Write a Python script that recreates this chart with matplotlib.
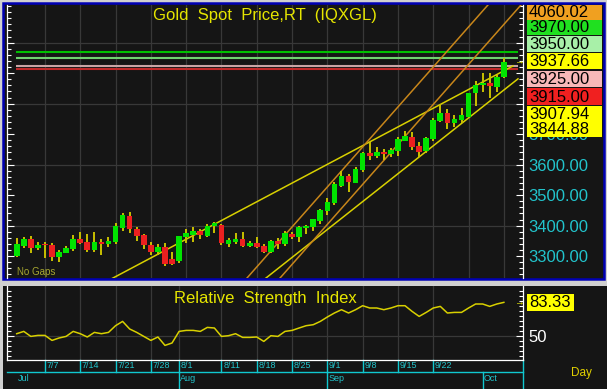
import matplotlib
matplotlib.use('Agg')
import matplotlib.pyplot as plt
import numpy as np
from matplotlib.patches import Rectangle
from matplotlib.ticker import MultipleLocator, FixedLocator
from matplotlib.transforms import blended_transform_factory

plt.rcParams['font.family'] = ['Liberation Sans', 'DejaVu Sans']

# ---------------- data ----------------
dates = ['7/1','7/2','7/3','7/4','7/7','7/8','7/9','7/10','7/11','7/14','7/15','7/16','7/17','7/18',
         '7/21','7/22','7/23','7/24','7/25','7/28','7/29','7/30','7/31','8/1','8/4','8/5','8/6','8/7',
         '8/8','8/11','8/12','8/13','8/14','8/15','8/18','8/19','8/20','8/21','8/22','8/25','8/26',
         '8/27','8/28','8/29','9/1','9/2','9/3','9/4','9/5','9/8','9/9','9/10','9/11','9/12','9/15',
         '9/16','9/17','9/18','9/19','9/22','9/23','9/24','9/25','9/26','9/29','9/30','10/1','10/2',
         '10/3','10/6']
opens = [3302,3335,3357,3326,3339,3337,3298,3311,3322,3358,3345,3320,3348,3339,
         3346,3394,3433,3389,3369,3337,3315,3331,3291,3285,3364,3370,3382,3367,
         3399,3402,3339,3345,3358,3335,3342,3335,3315,3351,3340,3373,3362,
         3391,3395,3415,3448,3476,3531,3563,3541,3583,3637,3628,3643,3634,3645,
         3679,3690,3662,3645,3683,3743,3768,3736,3747,3757,3834,3861,3867,
         3855,3886]
highs = [3359,3363,3366,3346,3346,3344,3320,3334,3369,3379,3372,3378,3355,3362,
         3408,3443,3444,3395,3373,3346,3339,3342,3315,3366,3389,3395,3388,3404,
         3411,3405,3361,3375,3378,3351,3362,3340,3353,3359,3383,3380,3399,
         3402,3423,3455,3490,3542,3579,3569,3594,3641,3673,3659,3651,3654,3690,
         3710,3707,3674,3692,3752,3798,3781,3763,3787,3836,3876,3900,3900,
         3894,3949]
lows = [3298,3328,3309,3320,3293,3285,3282,3309,3318,3340,3315,3315,3304,3331,
        3340,3384,3377,3351,3322,3304,3304,3268,3271,3279,3344,3348,3358,3363,
        3377,3337,3331,3340,3329,3329,3326,3312,3312,3323,3333,3358,3348,
        3372,3383,3404,3435,3468,3528,3512,3539,3577,3615,3621,3615,3626,3628,
        3677,3648,3626,3637,3677,3739,3716,3725,3736,3757,3793,3839,3818,
        3839,3884]
closes = [3339,3357,3328,3338,3336,3298,3315,3326,3358,3342,3320,3346,3340,3351,
          3399,3435,3389,3366,3337,3315,3331,3274,3274,3366,3375,3382,3368,3400,
          3408,3342,3352,3358,3334,3342,3331,3315,3351,3340,3377,3362,3395,
          3399,3421,3451,3479,3536,3563,3544,3585,3637,3628,3643,3634,3648,3683,
          3694,3659,3643,3686,3747,3768,3736,3750,3763,3834,3861,3867,3858,
          3886,3937.66]
rsi = [52.0,54.3,49.3,50.3,50.3,45.3,47.7,49.3,54.3,52.0,48.7,53.3,52.0,53.3,
       60.0,64.3,56.7,53.3,49.3,45.3,48.7,40.3,42.7,54.3,55.3,55.3,54.3,58.3,
       57.7,49.3,50.0,52.0,48.3,48.3,48.7,44.3,50.0,49.3,54.3,55.3,57.7,
       60.0,61.0,64.3,68.7,72.7,76.0,72.7,76.0,80.0,77.7,77.7,76.0,77.7,80.0,
       80.0,74.3,69.3,73.3,77.7,79.3,72.7,73.3,73.3,77.7,81.7,81.7,79.3,
       81.7,83.33]

# trend lines: start (bar index, price) and value at last bar (index 69)
trend_start_x = [13.64, 35.31, 32.62, 37.30]
trend_start_y = [3228.5, 3228.5, 3228.5, 3228.5]
trend_last_y = [3907.94, 3844.88, 4182.8, 4060.02]
trend_end_x = [70.3, 71.0, 71.5, 71.5]
trend_colors = ['#d8d000', '#d8d000', '#c8861a', '#c8861a']

level_values = [3970.00, 3950.00, 3925.00, 3915.00]
level_colors = ['#00c000', '#70d070', '#c8a4a4', '#c02828']

box_labels = ['4060.02', '3970.00', '3950.00', '3937.66', '3925.00', '3915.00', '3907.94', '3844.88']
box_colors = ['#f0a020', '#20e020', '#a8f0a8', '#ffff00', '#f8b8b8', '#f02020', '#ffff00', '#ffff00']

price_ticks = [3300, 3400, 3500, 3600, 3700, 3800, 3900, 4000]
price_tick_labels = ['3300.00', '3400.00', '3500.00', '3600.00', '3700.00', '', '', '']
grid_prices = [3400, 3600, 3800, 4000]
date_tick_labels = ['7/7', '7/14', '7/21', '7/28', '8/1', '8/11', '8/18', '8/25', '9/1', '9/8', '9/15', '9/22']
month_labels = ['Jul', 'Aug', 'Sep', 'Oct']
month_first = ['7/1', '8/1', '9/1', '10/1']
grid_dates = ['7/7','7/14','7/21','7/28','8/4','8/11','8/18','8/25','9/1','9/8','9/15','9/22','9/29','10/6']

# ---------------- layout ----------------
W, H = 607, 389
DARK = '#151515'
GRID = '#383838'
YEL = '#e6e600'
CYAN_T = '#22c4cc'
CYAN_L = '#10c8d0'

fig = plt.figure(figsize=(W / 100, H / 100), dpi=100, facecolor='#d0d0d0')

def frac(x0, y0, x1, y1):
    return [x0 / W, 1 - y1 / H, (x1 - x0) / W, (y1 - y0) / H]

bg = fig.add_axes([0, 0, 1, 1], zorder=0)
bg.set_xlim(0, W); bg.set_ylim(H, 0); bg.axis('off')
bg.add_patch(Rectangle((3, 3), 601, 276, facecolor=DARK, edgecolor='#0000b4', lw=1.8))
bg.add_patch(Rectangle((3, 286), 604, 103, facecolor=DARK, edgecolor='none'))

idx = np.arange(len(closes))
pos = {d: i for i, d in enumerate(dates)}

# ---------------- main panel ----------------
ax = fig.add_axes(frac(7, 5, 523, 278), zorder=2)
ax.set_facecolor(DARK)
ax.set_xlim(-1.374, 71.71)
ax.set_ylim(3228.5, 4123.6)
for s in ['top', 'bottom']:
    ax.spines[s].set_visible(False)
for s in ['left', 'right']:
    ax.spines[s].set_color('white')
    ax.spines[s].set_linewidth(0.9)
ax.set_xticks([])
ax.yaxis.set_major_locator(FixedLocator(price_ticks))
ax.yaxis.set_minor_locator(MultipleLocator(20))
ax.set_yticklabels(price_tick_labels)
ax.tick_params(axis='y', which='both', direction='in', left=True, right=True,
               labelleft=False, labelright=True, colors='white', width=0.8)
ax.tick_params(axis='y', which='major', length=5, labelsize=12, labelcolor=CYAN_T, pad=4)
ax.tick_params(axis='y', which='minor', length=3)

for g in grid_prices:
    ax.axhline(g, color=GRID, lw=0.9, zorder=0)
for d in grid_dates:
    ax.axvline(pos[d], color=GRID, lw=0.9, zorder=0)

for v, c in zip(level_values, level_colors):
    ax.hlines(v, -0.15, 71.0, color=c, lw=1.5, zorder=1)

for x0, y0, y69, x1, c in zip(trend_start_x, trend_start_y, trend_last_y, trend_end_x, trend_colors):
    slope = (y69 - y0) / (69 - x0)
    xs = np.array([x0 - 3, x1])
    ax.plot(xs, y0 + slope * (xs - x0), color=c, lw=1.1, zorder=2)

o = np.array(opens); c_ = np.array(closes); hi = np.array(highs); lo = np.array(lows)
up = c_ >= o
ax.vlines(idx, lo, hi, color='#c8c000', lw=1.4, zorder=3)
body_h = np.maximum(np.abs(c_ - o), 3.0)
ax.bar(idx, body_h, bottom=np.minimum(o, c_), width=0.8,
       color=np.where(up, '#00e400', '#ec2020'), zorder=4)

ax.text(idx[-1] + 1.4, closes[-1], '\u2192', color=YEL, fontsize=7, va='center', ha='left', zorder=6)
ax.text(0.5, 0.963, 'Gold  Spot  Price,RT  (IQXGL)', transform=ax.transAxes, ha='center', va='center',
        color=YEL, fontsize=12)
ax.text(0.02, 0.005, 'No Gaps', transform=ax.transAxes, ha='left', va='bottom', color='#a8a830', fontsize=7)

# ---------------- RSI panel ----------------
ax2 = fig.add_axes(frac(7, 286, 523, 359.5), zorder=2)
ax2.set_facecolor(DARK)
ax2.set_xlim(-1.374, 71.71)
ax2.set_ylim(26.2, 99.7)
ax2.spines['top'].set_visible(False)
for s in ['left', 'right', 'bottom']:
    ax2.spines[s].set_color('white')
    ax2.spines[s].set_linewidth(0.9)
ax2.set_xticks([])
ax2.yaxis.set_major_locator(FixedLocator([50]))
ax2.yaxis.set_minor_locator(MultipleLocator(5))
ax2.set_yticklabels(['50'])
ax2.tick_params(axis='y', which='both', direction='in', left=True, right=True,
                labelleft=False, labelright=True, colors='white', width=0.8)
ax2.tick_params(axis='y', which='major', length=5, labelsize=12, labelcolor='white', pad=4)
ax2.tick_params(axis='y', which='minor', length=3)
ax2.axhline(50, color=GRID, lw=0.9, zorder=0)
for d in date_tick_labels:
    ax2.axvline(pos[d], color=GRID, lw=0.9, zorder=0)
ax2.plot(idx, rsi, color='#d8d000', lw=1.1, zorder=3)
ax2.text(idx[-1] + 1.4, rsi[-1], '\u2192', color=YEL, fontsize=7, va='center', ha='left', zorder=6)
ax2.text(0.5, 0.83, 'Relative  Strength  Index', transform=ax2.transAxes, ha='center', va='center',
         color=YEL, fontsize=12)

# date axis rows
tr = blended_transform_factory(ax2.transData, ax2.transAxes)
row1 = -12.2 / 73.5
bottom = -29.5 / 73.5
ax2.plot([0, 1], [row1, row1], transform=ax2.transAxes, color=CYAN_L, lw=1.0, clip_on=False)
ax2.plot([1, 1], [0, bottom], transform=ax2.transAxes, color=CYAN_L, lw=1.0, clip_on=False)
for d in date_tick_labels:
    ax2.plot([pos[d], pos[d]], [0, row1], transform=tr, color=CYAN_L, lw=1.0, clip_on=False)
    ax2.text(pos[d] + 0.25, row1 / 2 - 0.005, d, transform=tr, color=CYAN_T, fontsize=6.5,
             ha='left', va='center', clip_on=False)
for m, d in zip(month_labels, month_first):
    if pos[d] > 0:
        ax2.plot([pos[d], pos[d]], [row1, bottom], transform=tr, color=CYAN_L, lw=1.0, clip_on=False)
    ax2.text(pos[d] + 0.15, (row1 + bottom) / 2 + 0.02, m, transform=tr, color=CYAN_T, fontsize=6.5,
             ha='left', va='center', clip_on=False)

# ---------------- overlay: right-side labels ----------------
ov = fig.add_axes([0, 0, 1, 1], zorder=5)
ov.set_xlim(0, W); ov.set_ylim(H, 0); ov.axis('off')
ov.patch.set_visible(False)
box_tops = [5, 19.5, 36, 53.3, 70.7, 88.3, 106, 121]
box_bots = [19.5, 35, 51.7, 69.3, 87.3, 105, 121, 136.5]
for lab, col, t, b in zip(box_labels, box_colors, box_tops, box_bots):
    ov.add_patch(Rectangle((527, t), 75, b - t, facecolor=col, edgecolor='none'))
    ov.text(529, (t + b) / 2 + 0.5, lab, color='black', fontsize=12, ha='left', va='center')
ov.add_patch(Rectangle((527, 294), 46.5, 16.7, facecolor='#ffff00', edgecolor='none'))
ov.text(529, 302.8, f'{rsi[-1]:.2f}', color='black', fontsize=12, ha='left', va='center')
ov.text(571, 373, 'Day', color='#e0d000', fontsize=8.5, ha='left', va='center')

fig.savefig('out.png', dpi=100, facecolor=fig.get_facecolor())
